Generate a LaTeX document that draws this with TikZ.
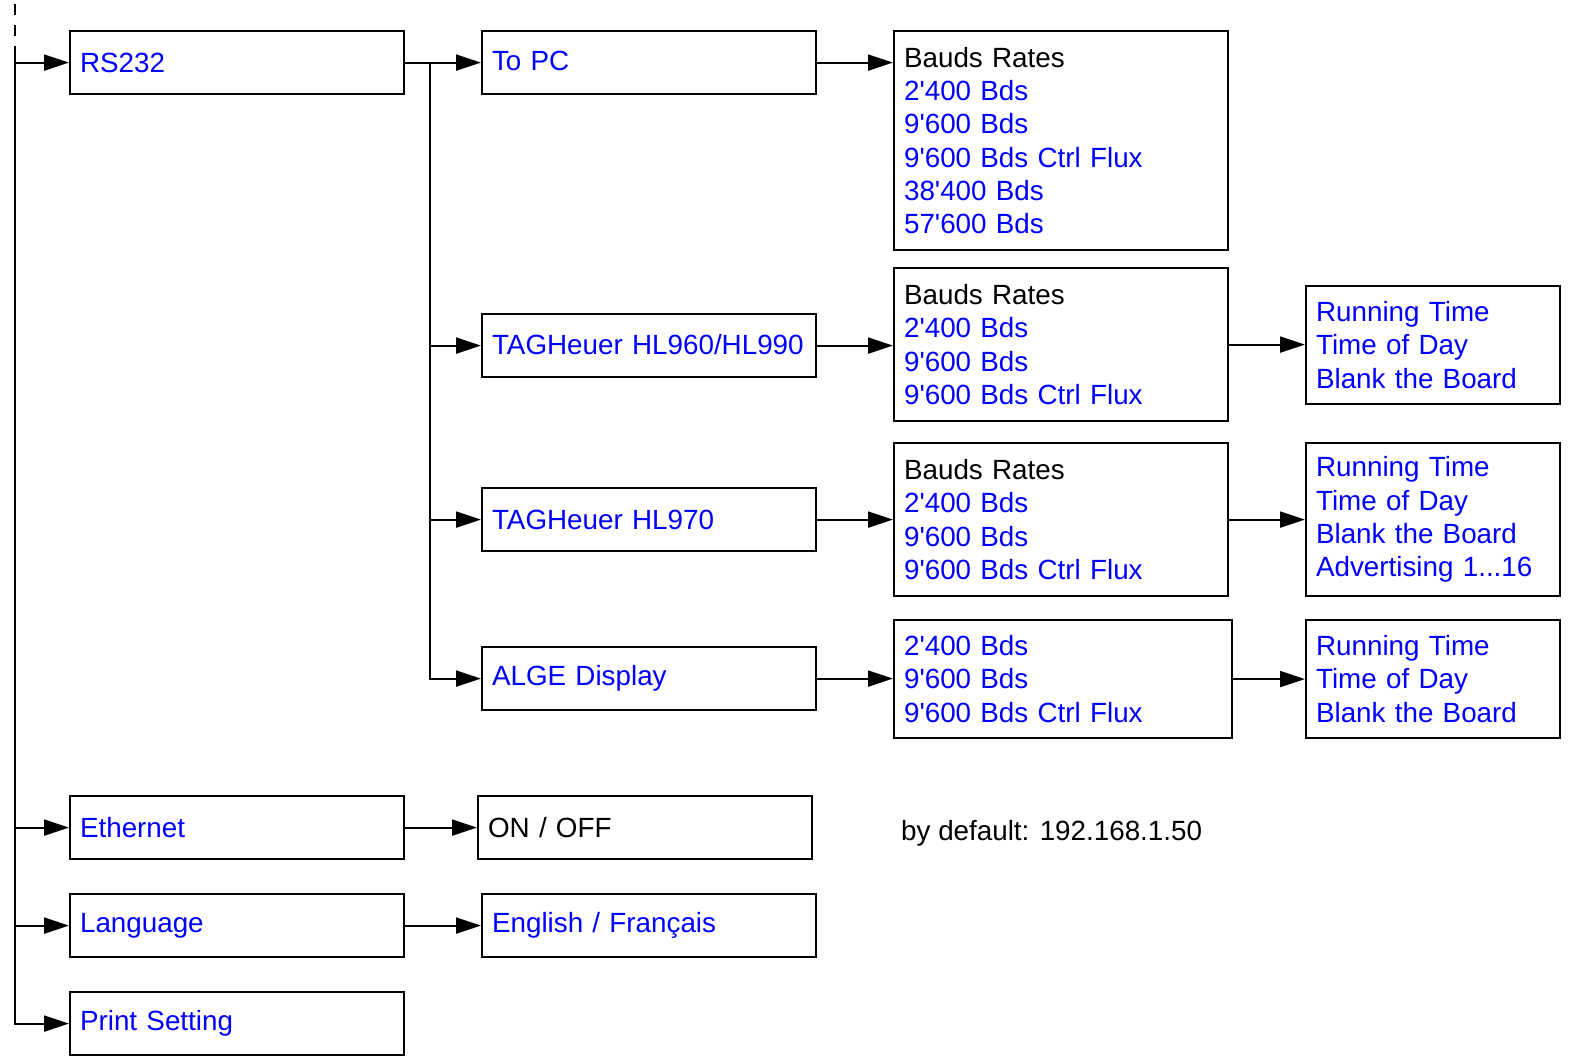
\documentclass[tikz,border=0pt]{standalone}
\usepackage{fontspec}
\setmainfont{Liberation Sans}
\usetikzlibrary{arrows.meta}
\definecolor{itemblue}{RGB}{0,0,255}
\newcommand{\ap}{\textquotesingle}
\begin{document}
\begin{tikzpicture}[x=1pt,y=-1pt,
  mybox/.style={draw, line width=2.1pt, rectangle, anchor=north west,
    inner xsep=10pt, inner ysep=0pt, align=left, text=itemblue,
    font={\fontsize{27.8}{33.3}\selectfont}},
  w334/.style={text width=314pt},
  w338/.style={text width=318pt},
  w254/.style={text width=234pt},
  arr/.style={line width=2.1pt, -{Triangle[length=25pt,width=16pt]}},
  ln/.style={line width=2.1pt},
  plain/.style={anchor=base west, inner sep=0pt, font={\fontsize{27.8}{33.3}\selectfont}}
]
\useasboundingbox (0,0) rectangle (1569,1055);

% first column
\node[mybox,w334,minimum height=63pt] (rs) at (69,30) {RS232};
\node[mybox,w334,minimum height=63pt] (eth) at (69,795) {Ethernet};
\node[mybox,w334,minimum height=63pt] (lang) at (69,893) {Language};
\node[mybox,w334,minimum height=63pt] (print) at (69,991) {Print Setting};

% second column
\node[mybox,w334,minimum height=63pt] (topc) at (481,30) {\raisebox{4pt}{To PC}};
\node[mybox,w334,minimum height=63pt] (tagA) at (481,313) {\raisebox{2pt}{TAGHeuer HL960/HL990}};
\node[mybox,w334,minimum height=63pt] (tagB) at (481,487) {TAGHeuer HL970};
\node[mybox,w334,minimum height=63pt] (alge) at (481,646) {\raisebox{3pt}{ALGE Display}};
\node[mybox,w334,minimum height=63pt,text=black] (onoff) at (477,795) {ON / OFF};
\node[mybox,w334,minimum height=63pt] (engfr) at (481,893) {\raisebox{3pt}{English / Français}};

% third column
\node[mybox,w334,minimum height=219pt] (bA) at (893,30)
  {\textcolor{black}{Bauds Rates}\\2\ap400 Bds\\9\ap600 Bds\\9\ap600 Bds Ctrl Flux\\38\ap400 Bds\\57\ap600 Bds};
\node[mybox,w334,minimum height=153pt] (bB) at (893,267)
  {\textcolor{black}{Bauds Rates}\\2\ap400 Bds\\9\ap600 Bds\\9\ap600 Bds Ctrl Flux};
\node[mybox,w334,minimum height=153pt] (bC) at (893,442)
  {\textcolor{black}{Bauds Rates}\\2\ap400 Bds\\9\ap600 Bds\\9\ap600 Bds Ctrl Flux};
\node[mybox,w338,minimum height=118pt] (bD) at (893,619)
  {2\ap400 Bds\\9\ap600 Bds\\9\ap600 Bds Ctrl Flux};
\node[plain] (dflt) at (901,840) {by default: 192.168.1.50};

% fourth column
\node[mybox,w254,minimum height=118pt] (rA) at (1305,285)
  {Running Time\\Time of Day\\Blank the Board};
\node[mybox,w254,minimum height=153pt] (rB) at (1305,442)
  {Running Time\\Time of Day\\Blank the Board\\Advertising 1...16};
\node[mybox,w254,minimum height=118pt] (rC) at (1305,619)
  {Running Time\\Time of Day\\Blank the Board};

% left trunk
\coordinate (t0) at (15,4);
\coordinate (t1) at (15,47);
\draw[ln, dash pattern=on 11pt off 10pt] (t0) -- (t1);
\draw[arr] (t1) |- (print.west);
\draw[arr] (t1 |- rs.west) -- (rs.west);
\draw[arr] (t1 |- eth.west) -- (eth.west);
\draw[arr] (t1 |- lang.west) -- (lang.west);

% RS232 branch
\coordinate (j) at (430,61.5);
\draw[arr] (rs.east) -- (topc.west);
\draw[arr] (j) |- (alge.west);
\draw[arr] (j |- tagA.west) -- (tagA.west);
\draw[arr] (j |- tagB.west) -- (tagB.west);

% to third column
\draw[arr] (topc.east) -- (topc.east -| bA.west);
\draw[arr] (tagA.east) -- (tagA.east -| bB.west);
\draw[arr] (tagB.east) -- (tagB.east -| bC.west);
\draw[arr] (alge.east) -- (alge.east -| bD.west);
\draw[arr] (eth.east) -- (onoff.west);
\draw[arr] (lang.east) -- (engfr.west);

% to fourth column
\draw[arr] (bB.east) -- (bB.east -| rA.west);
\draw[arr] (bC.east) -- (bC.east -| rB.west);
\draw[arr] (bD.east) -- (bD.east -| rC.west);
\end{tikzpicture}
\end{document}
